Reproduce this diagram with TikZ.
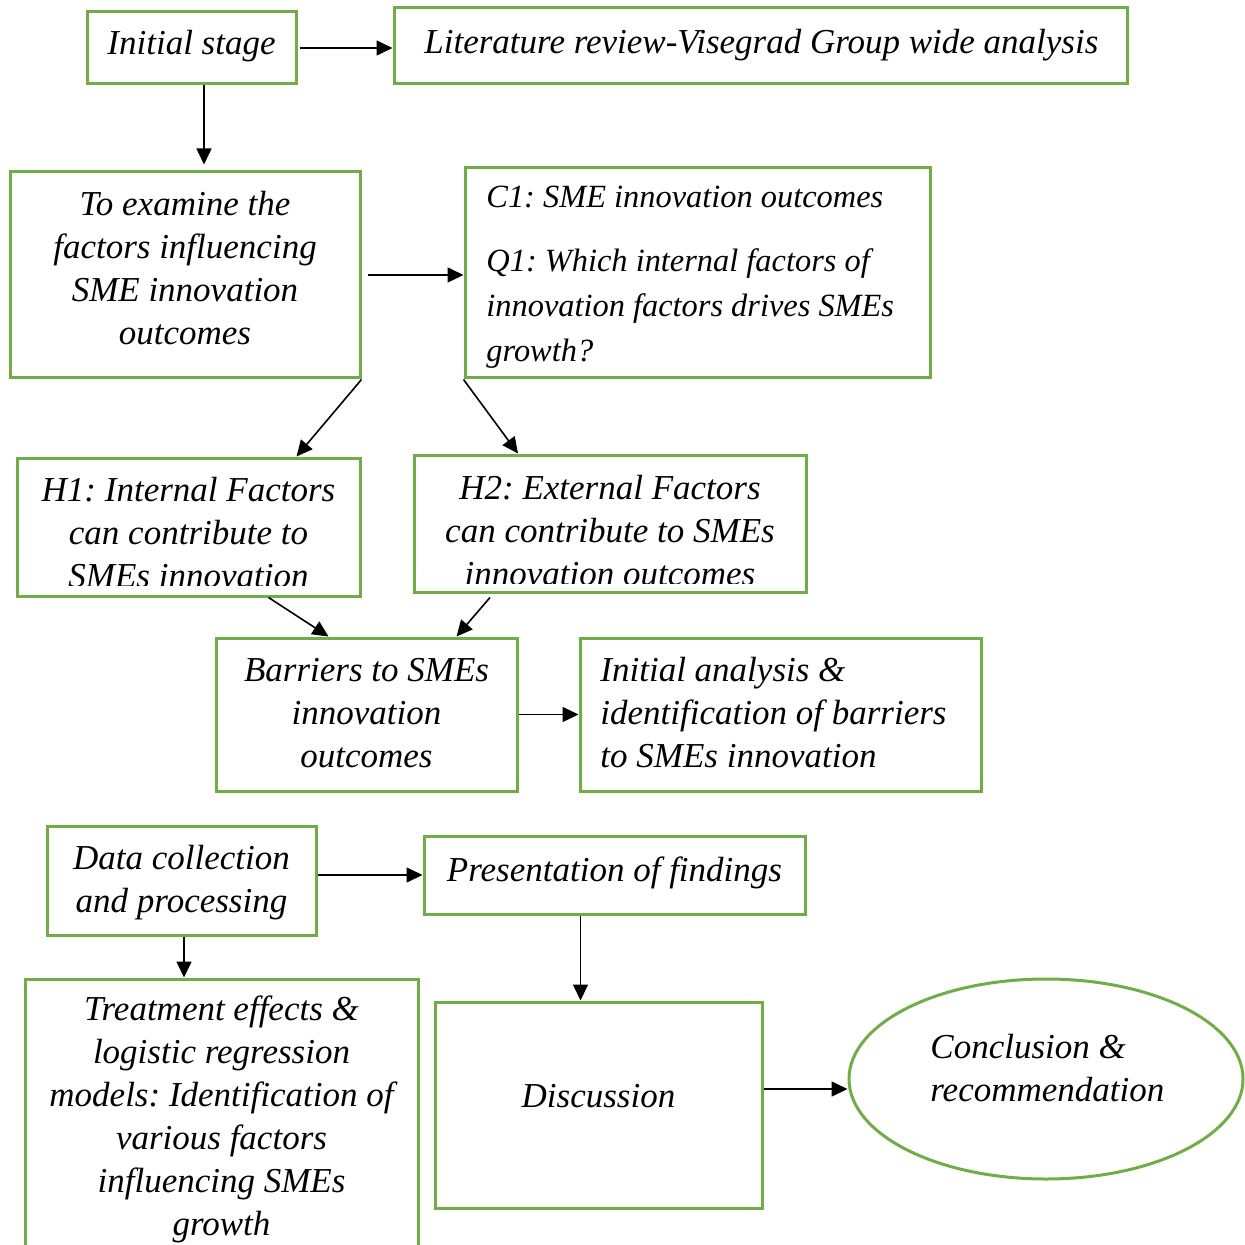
\documentclass[tikz,border=0pt]{standalone}
\usepackage{fontspec}
\setmainfont{Liberation Serif}
\usetikzlibrary{arrows.meta,shapes.geometric}
\definecolor{boxgreen}{HTML}{70AD47}
\frenchspacing
\begin{document}
\begin{tikzpicture}[x=0.5pt, y=-0.5pt,
  font=\itshape\fontsize{17.5}{21.5}\selectfont,
  box/.style={draw=boxgreen, line width=1.5pt, inner sep=0pt},
  txt/.style={inner sep=0pt, align=center},
  arr/.style={-{Triangle[length=8pt,width=7.5pt]}, line width=0.8pt}]
\useasboundingbox (0,0) rectangle (1244,1245);
% boxes
\node[box, minimum width=104.5pt, minimum height=36pt] (init) at (191.5,48) {};
\node[box, minimum width=366.5pt, minimum height=38pt] (lit) at (760.5,46) {};
\node[box, minimum width=175pt, minimum height=103pt] (exam) at (185,275) {};
\node[box, minimum width=232.5pt, minimum height=105pt] (cq) at (697.5,273) {};
\node[box, minimum width=171.5pt, minimum height=69pt] (hone) at (188.5,527) {};
\node[box, minimum width=196pt, minimum height=68.5pt] (htwo) at (610,523.5) {};
\node[box, minimum width=150.5pt, minimum height=76.5pt] (barr) at (366.5,714.5) {};
\node[box, minimum width=200.5pt, minimum height=76.5pt] (ana) at (780.5,714.5) {};
\node[box, minimum width=134.5pt, minimum height=54.5pt] (data) at (181.5,880.5) {};
\node[box, minimum width=190.5pt, minimum height=39pt] (pres) at (614.5,875) {};
\node[box, minimum width=196.5pt, minimum height=141.5pt] (treat) at (221.5,1120.5) {};
\node[box, minimum width=163.5pt, minimum height=103pt] (disc) at (598.5,1105) {};
\node[box, ellipse, minimum width=197pt, minimum height=100pt] (concl) at (1046,1079) {};
% texts
\node[txt] (inittxt) at (191.5,46) {Initial stage};
\node[txt, anchor=west] (littxt) at (424,45) {Literature review-Visegrad Group wide analysis};
\node[txt] (examtxt) at (185,268) {To examine the\\factors influencing\\SME innovation\\outcomes};
\node[txt, anchor=west, align=left, font=\itshape\fontsize{16.2}{22.5}\selectfont] (cqtxt) at (486,277) {C1: SME innovation outcomes\\[9.5pt]Q1: Which internal factors of\\innovation factors drives SMEs\\growth?};
\node[txt] (barrtxt) at (366.5,713) {Barriers to SMEs\\innovation\\outcomes};
\node[txt, anchor=west, align=left] (anatxt) at (600,713) {Initial analysis \&\\identification of barriers\\to SMEs innovation};
\node[txt] (datatxt) at (181.5,883) {Data collection\\and processing};
\node[txt] (prestxt) at (614.5,873) {Presentation of findings};
\node[txt] (treattxt) at (221.5,1119) {Treatment effects \&\\logistic regression\\models: Identification of\\various factors\\influencing SMEs\\growth};
\node[txt] (disctxt) at (598.5,1096) {Discussion};
\node[txt, anchor=west, align=left] (concltxt) at (930,1068.5) {Conclusion \&\\recommendation};
% texts cut by the box
\begin{scope}
\clip (hone.north west) rectangle ([yshift=6pt]hone.south east);
\node[txt] (honetxt) at (188.5,533) {H1: Internal Factors\\can contribute to\\SMEs innovation};
\end{scope}
\begin{scope}
\clip (htwo.north west) rectangle ([yshift=5pt]htwo.south east);
\node[txt] (htwotxt) at (610,530.5) {H2: External Factors\\can contribute to SMEs\\innovation outcomes};
\end{scope}
% arrows
\draw[arr] ([xshift=1pt]init.east) -- (init.east -| lit.west);
\draw[arr, shorten >=3pt] ([xshift=6.25pt]init.south) -- ([xshift=6.25pt]init.south |- exam.north);
\draw[arr] ([xshift=3pt]exam.east) -- (exam.east -| cq.west);
\draw[arr] (exam.south east) -- ([xshift=54pt]hone.north);
\draw[arr] (cq.south west) -- ([xshift=-46pt]htwo.north);
\draw[arr] ([xshift=40pt]hone.south) -- ([xshift=-19pt]barr.north);
\draw[arr] ([xshift=-60pt,yshift=-2pt]htwo.south) -- ([xshift=45pt]barr.north);
\draw[arr] (barr.east) -- (barr.east -| ana.west);
\draw[arr] ([yshift=2.75pt]data.east) -- ([yshift=2.75pt]data.east -| pres.west);
\draw[arr] ([xshift=1.25pt]data.south) -- ([xshift=1.25pt]data.south |- treat.north);
\draw[arr] ([xshift=-17pt]pres.south) -- ([xshift=-17pt]pres.south |- disc.north);
\draw[arr] ([yshift=8pt]disc.east) -- ([yshift=8pt]disc.east -| concl.west);
\end{tikzpicture}
\end{document}
